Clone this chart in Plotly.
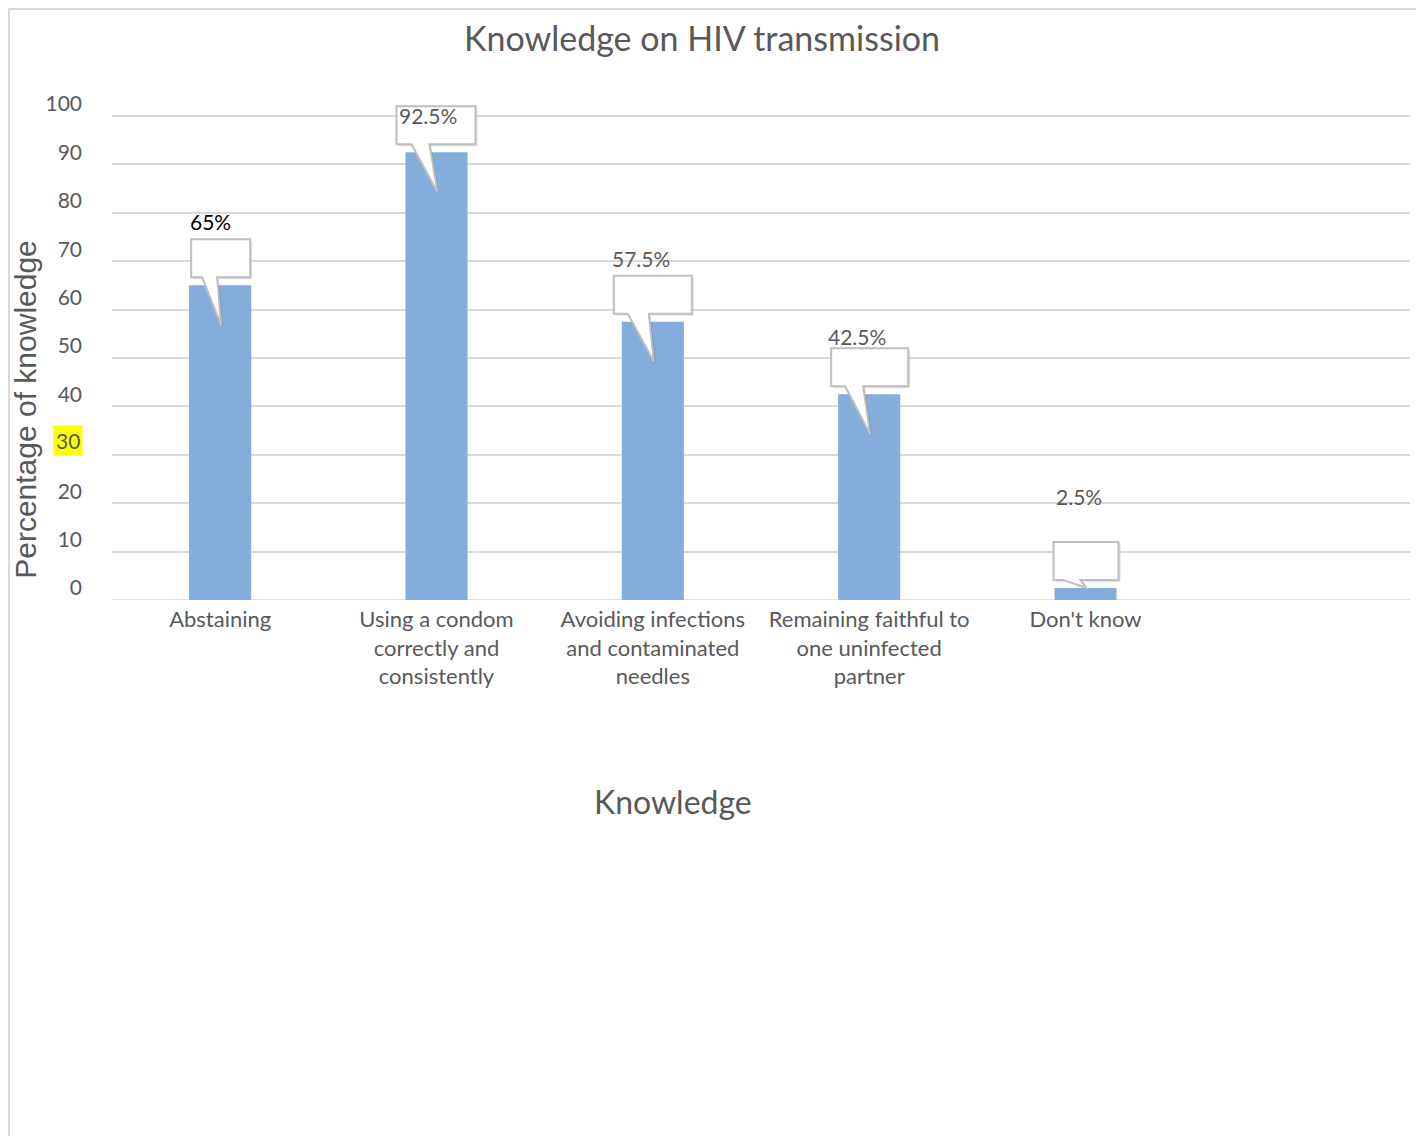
import plotly.graph_objects as go

# ---- data ----
categories = ["Abstaining", "Using a condom<br>correctly and<br>consistently",
              "Avoiding infections<br>and contaminated<br>needles",
              "Remaining faithful to<br>one uninfected<br>partner", "Don't know", ""]
values = [65, 92.5, 57.5, 42.5, 2.5]
value_labels = ["65%", "92.5%", "57.5%", "42.5%", "2.5%"]
label_colors = ["#000000", "#595959", "#595959", "#595959", "#595959"]
y_ticks = [0, 10, 20, 30, 40, 50, 60, 70, 80, 90, 100]

# callout styling (pixel offsets relative to bar top)
box_left = [-29, -40, -39, -38, -32]
box_right = [30, 39, 39, 39, 33]
ptr_left = [-18, -25, -25, -24, -22]
ptr_right = [-3, -7, -4, -6, -5]
label_dx = [-10, -9, -12, -12, -7]
label_dy = [64, 37, 63, 58, 91]

FONT = "Lato"
GRAY = "#595959"
GRID = "#D9D9D9"

# figure geometry (page is offset by the 8px body margin)
Y_TOP = 103.5  # a little headroom above 100 so the top callout isn't clipped
W, H = 1416, 1128
ML, MR, MT, MB = 104, 14, 91, 536
PW = W - ML - MR
PH = H - MT - MB

x_idx = list(range(len(values)))

fig = go.Figure()
fig.add_trace(go.Bar(x=x_idx, y=values, width=0.287, marker_color="#84ADDB",
                     marker_line_width=0, hoverinfo="skip"))

shapes = []
annotations = []
for i, v in enumerate(values):
    tip = 40 if v > 10 else 0
    L, R = box_left[i], box_right[i]
    p0, p1 = ptr_left[i], ptr_right[i]
    path = (f"M {L},8 L {p0},8 L 1,{-tip} L {p1},8 L {R},8 L {R},46 L {L},46 Z")
    spath = (f"M {L+2},6 L {p0+2},6 L 3,{-tip-2} L {p1+2},6 L {R+2},6 L {R+2},44 L {L+2},44 Z")
    shapes.append(dict(type="path", xsizemode="pixel", ysizemode="pixel", xref="x", yref="y",
                       xanchor=i, yanchor=v, path=spath, fillcolor="rgba(0,0,0,0.12)",
                       line=dict(width=0), layer="above"))
    shapes.append(dict(type="path", xsizemode="pixel", ysizemode="pixel", xref="x", yref="y",
                       xanchor=i, yanchor=v, path=path, fillcolor="white",
                       line=dict(color="#BFBFBF", width=2), layer="above"))
    annotations.append(dict(x=i, y=v, xref="x", yref="y", text=value_labels[i], showarrow=False,
                            xshift=label_dx[i], yshift=label_dy[i],
                            font=dict(family=FONT, size=21, color=label_colors[i])))

# outer chart border
shapes.append(dict(type="rect", xref="paper", yref="paper",
                   x0=(1 - ML) / PW, x1=(1412 - ML) / PW,
                   y0=-(H + 10 - MT - PH) / PH, y1=(MT + PH - 1) / PH,
                   line=dict(color=GRID, width=2),
                   fillcolor="rgba(0,0,0,0)", layer="below"))

# highlighted "30" tick label
annotations.append(dict(x=0, xref="paper", xanchor="right", xshift=-29, y=30, yref="y",
                        yshift=14, text="30", showarrow=False, bgcolor="#FFFF00",
                        font=dict(family=FONT, size=21, color=GRAY), borderpad=2))

# axis titles
annotations.append(dict(x=(18 - ML) / PW, y=39.3, xref="paper", yref="y",
                        xanchor="center", yanchor="middle", text="Percentage of knowledge",
                        textangle=-90, showarrow=False,
                        font=dict(family="Liberation Sans", size=30, color=GRAY)))
annotations.append(dict(x=(665 - ML) / PW, y=-(793 - MT - PH) / PH, xref="paper", yref="paper",
                        xanchor="center", yanchor="middle", text="Knowledge",
                        showarrow=False, font=dict(family=FONT, size=32, color=GRAY)))

fig.update_layout(
    width=W, height=H,
    margin=dict(l=ML, r=MR, t=MT, b=MB),
    paper_bgcolor="white", plot_bgcolor="white",
    showlegend=False,
    title=dict(text="Knowledge on HIV transmission", x=694 / W, xref="container",
               xanchor="center", y=1 - 31 / H, yanchor="middle",
               font=dict(family=FONT, size=34, color=GRAY)),
    shapes=shapes, annotations=annotations,
)
fig.update_xaxes(range=[-0.5, 5.5], tickmode="array", tickvals=list(range(len(categories))),
                 ticktext=categories, showgrid=False, zeroline=False, showline=False,
                 ticks="", ticklabelstandoff=4,
                 tickfont=dict(family=FONT, size=22, color=GRAY))
fig.update_yaxes(range=[0, Y_TOP], tickmode="array", tickvals=y_ticks,
                 ticktext=[("" if t == 30 else str(t)) for t in y_ticks],
                 showgrid=True, gridcolor=GRID, gridwidth=1.5, zeroline=False,
                 showline=False, ticks="", ticklabelshift=-12, ticklabelstandoff=29,
                 tickfont=dict(family=FONT, size=21, color=GRAY))
fig.add_hline(y=0, line=dict(color=GRID, width=1.5), layer="below")

fig.write_html("out.html")
